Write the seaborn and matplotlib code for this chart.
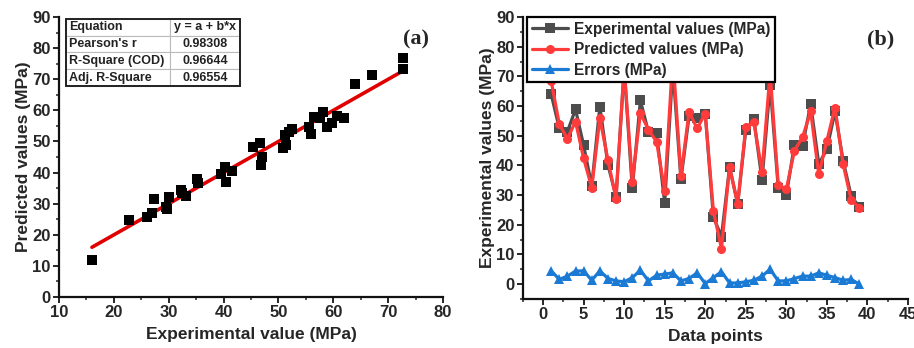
import numpy as np
import pandas as pd
import matplotlib
matplotlib.use("Agg")
import matplotlib.pyplot as plt
from matplotlib.ticker import MultipleLocator
from matplotlib.patches import Rectangle
import seaborn as sns

# ---------------- data ----------------
points = list(range(1, 40))
experimental = [64.0, 52.5, 51.4, 58.9, 46.8, 33.1, 59.8, 40.2, 29.5, 72.7,
                32.3, 61.9, 51.2, 50.8, 27.4, 72.7, 35.3, 56.5, 55.9, 57.5,
                22.7, 16.0, 39.5, 27.0, 52.0, 55.5, 35.1, 67.1, 32.5, 30.0,
                47.0, 46.7, 60.6, 40.5, 45.4, 58.2, 41.6, 29.7, 26.0]
predicted = [68.5, 53.9, 49.0, 54.8, 42.4, 32.5, 55.9, 41.8, 28.8, 73.3,
             34.5, 57.6, 52.0, 48.0, 31.5, 76.7, 36.5, 58.0, 52.5, 57.5,
             24.7, 12.0, 39.4, 27.0, 53.0, 54.5, 37.9, 71.4, 33.5, 32.0,
             45.0, 49.5, 58.2, 37.0, 48.3, 59.5, 40.5, 28.3, 25.8]
errors = [4.5, 1.6, 2.7, 4.4, 4.5, 1.3, 4.5, 1.9, 1.1, 0.8,
          2.2, 4.7, 1.1, 3.0, 3.4, 3.8, 1.1, 1.9, 3.8, 0.2,
          2.2, 4.2, 0.4, 0.4, 0.8, 1.3, 2.7, 5.0, 1.1, 1.1,
          1.9, 2.7, 2.7, 3.8, 3.0, 2.2, 1.3, 1.6, 0.0]

table_rows = [["Equation", "y = a + b*x"],
              ["Pearson's r", "0.98308"],
              ["R-Square (COD)", "0.96644"],
              ["Adj. R-Square", "0.96554"]]

df = pd.DataFrame({"point": points, "exp": experimental,
                   "pred": predicted, "err": errors})

# ---------------- style ----------------
sns.set_style("ticks")
plt.rcParams['font.family'] = ['Liberation Sans', 'DejaVu Sans']
plt.rcParams['font.weight'] = 'bold'
plt.rcParams['axes.labelweight'] = 'bold'

fig = plt.figure(figsize=(9.14, 3.48), dpi=100)
ax1 = fig.add_axes([0.0646, 0.1466, 0.4201, 0.8044])
ax2 = fig.add_axes([0.572, 0.1408, 0.4214, 0.8102])

# ---------------- panel (a) ----------------
sns.scatterplot(data=df, x="exp", y="pred", ax=ax1, marker="s", s=42,
                color="black", edgecolor="black", linewidth=0, zorder=3)
sns.regplot(data=df, x="exp", y="pred", ax=ax1, scatter=False, ci=None,
            color="#e00000", line_kws={"linewidth": 2.6}, truncate=True)
ax1.set_xlim(10, 80)
ax1.set_ylim(0, 90)
ax1.xaxis.set_major_locator(MultipleLocator(10))
ax1.yaxis.set_major_locator(MultipleLocator(10))
ax1.xaxis.set_minor_locator(MultipleLocator(5))
ax1.yaxis.set_minor_locator(MultipleLocator(5))
ax1.set_xlabel("Experimental value (MPa)", fontsize=12.5, fontweight="bold", labelpad=5)
ax1.set_ylabel("Predicted values (MPa)", fontsize=12.5, fontweight="bold", labelpad=1)
ax1.text(0.93, 0.92, "(a)", transform=ax1.transAxes, ha="center", va="center",
         fontsize=16, fontweight="bold", family="Liberation Serif")

tbl = ax1.table(cellText=table_rows, cellLoc="left",
                bbox=[0.018, 0.754, 0.453, 0.239], colWidths=[0.6, 0.4])
tbl.auto_set_font_size(False)
for (r, c), cell in tbl.get_celld().items():
    cell.set_edgecolor("#bbbbbb")
    cell.set_linewidth(0.8)
    cell.set_facecolor("white")
    cell.get_text().set_fontsize(9)
    cell.get_text().set_fontweight("bold")
    cell.get_text().set_color("#222222")
    if c == 1:
        cell.get_text().set_ha("center")
        cell._loc = "center"
    cell.PAD = 0.03
ax1.add_patch(Rectangle((0.018, 0.754), 0.453, 0.239, transform=ax1.transAxes,
                        fill=False, edgecolor="#222222", linewidth=1.4, zorder=10))

# ---------------- panel (b) ----------------
sns.lineplot(data=df, x="point", y="exp", ax=ax2, color="#4d4d4d", marker="s",
             markersize=6.5, markeredgewidth=0, linewidth=2.3,
             label="Experimental values (MPa)")
sns.lineplot(data=df, x="point", y="pred", ax=ax2, color="#ff3b3b", marker="o",
             markersize=6.5, markeredgewidth=0, linewidth=2.3,
             label="Predicted values (MPa)")
sns.lineplot(data=df, x="point", y="err", ax=ax2, color="#1a7ad4", marker="^",
             markersize=6.5, markeredgewidth=0, linewidth=2.3,
             label="Errors (MPa)")
ax2.set_xlim(-2.5, 45)
ax2.set_ylim(-5, 90)
ax2.xaxis.set_major_locator(MultipleLocator(5))
ax2.yaxis.set_major_locator(MultipleLocator(10))
ax2.xaxis.set_minor_locator(MultipleLocator(2.5))
ax2.yaxis.set_minor_locator(MultipleLocator(5))
ax2.set_xlabel("Data points", fontsize=12.5, fontweight="bold", labelpad=5)
ax2.set_ylabel("Experimental values (MPa)", fontsize=12.5, fontweight="bold", labelpad=1)
ax2.text(0.93, 0.92, "(b)", transform=ax2.transAxes, ha="center", va="center",
         fontsize=16, fontweight="bold", family="Liberation Serif")
leg = ax2.legend(loc="upper left", bbox_to_anchor=(0.012, 1.0), frameon=True,
                 fancybox=False, framealpha=1, edgecolor="black",
                 prop={"weight": "bold", "size": 11.2}, handlelength=2.3,
                 borderpad=0.3, labelspacing=0.35, handletextpad=0.4,
                 borderaxespad=0.0)
leg.get_frame().set_linewidth(1.6)
leg.set_zorder(20)

for ax in (ax1, ax2):
    sns.despine(ax=ax)
    for s in ("left", "bottom"):
        ax.spines[s].set_linewidth(1.6)
        ax.spines[s].set_color("#111111")
    ax.tick_params(axis="both", which="major", labelsize=12, length=4,
                   width=1.4, direction="out", pad=2)
    ax.tick_params(axis="both", which="minor", length=2.5, width=1.1, direction="out")
    for lab in ax.get_xticklabels() + ax.get_yticklabels():
        lab.set_fontweight("bold")

fig.savefig("out.png", dpi=100)
